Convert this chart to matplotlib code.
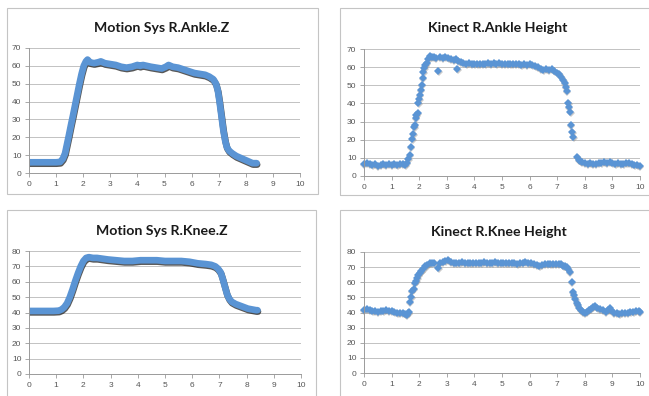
import numpy as np
import matplotlib
matplotlib.use("Agg")
import matplotlib.pyplot as plt
from matplotlib.patches import Rectangle
from matplotlib.transforms import ScaledTranslation

# ---- data ----
# Motion system, right ankle Z (dense line)
ms_ankle_x = [0, 0.2, 0.4, 0.6, 0.8, 1.0, 1.15, 1.25, 1.33, 1.4, 1.47, 1.55, 1.62, 1.7,
              1.78, 1.86, 1.94, 2.02, 2.1, 2.16, 2.25, 2.4, 2.55, 2.65, 2.8, 3.0, 3.2, 3.4,
              3.6, 3.8, 4.0, 4.1, 4.2, 4.35, 4.5, 4.7, 4.9, 5.05, 5.15, 5.3, 5.5, 5.7, 5.9,
              6.1, 6.3, 6.5, 6.65, 6.8, 6.9, 6.97, 7.03, 7.1, 7.17, 7.24, 7.3, 7.38, 7.5,
              7.65, 7.8, 7.95, 8.1, 8.25, 8.4]
ms_ankle_y = [6, 6, 6, 6, 6, 6, 6.2, 8, 11, 16, 21, 27, 32, 38,
              44, 50, 55.5, 60, 62.5, 63.5, 62, 61.5, 62, 62.5, 61.5, 61, 60.5, 59.5,
              59, 59.5, 60.5, 60, 60.5, 60, 59.5, 59, 58.5, 59.5, 60.5, 59.5, 59, 58, 57,
              56, 55.5, 55, 54, 52.5, 50, 46, 40, 32, 24, 18, 14.5, 12.5, 11,
              9.5, 8.5, 7.5, 6.5, 5.5, 5.5]

# Motion system, right knee Z
ms_knee_x = [0, 0.3, 0.6, 0.9, 1.1, 1.2, 1.3, 1.4, 1.5, 1.6, 1.7, 1.8, 1.9, 2.0, 2.1,
             2.2, 2.35, 2.5, 2.7, 2.9, 3.2, 3.5, 3.8, 4.1, 4.4, 4.7, 5.0, 5.3, 5.6, 5.9,
             6.2, 6.5, 6.7, 6.85, 6.95, 7.05, 7.12, 7.2, 7.28, 7.36, 7.45, 7.6, 7.75,
             7.9, 8.05, 8.2, 8.35, 8.4]
ms_knee_y = [41, 41, 41, 41, 41.2, 42, 43.5, 46, 50, 55, 60.5, 65.5, 70, 73.5, 75.5,
             76, 75.5, 75.5, 75, 74.5, 74, 73.5, 73.5, 74, 74, 74, 73.5, 73.5, 73.5, 73,
             72, 71.5, 71, 70, 68.5, 66, 62, 57, 52, 49, 47, 45.5, 44.5,
             43.5, 42.5, 42, 41.5, 41.5]

# Kinect, right ankle height (diamond markers)
kn_ankle_x = [0.0, 0.1, 0.2, 0.3, 0.4, 0.5, 0.6, 0.7, 0.8, 0.9, 1.0, 1.1, 1.2, 1.3, 1.4,
              1.5, 1.55, 1.6, 1.65, 1.7, 1.75, 1.78, 1.82, 1.85, 1.87, 1.9, 1.95, 1.97,
              2.0, 2.03, 2.06, 2.09, 2.12, 2.15, 2.18, 2.22, 2.27, 2.33, 2.39, 2.45, 2.52,
              2.6, 2.69, 2.75, 2.85, 2.95, 3.05, 3.15, 3.25, 3.32, 3.38, 3.42, 3.5, 3.6,
              3.7, 3.8, 3.9, 4.0, 4.1, 4.2, 4.3, 4.4, 4.5, 4.6, 4.7, 4.8, 4.9, 5.0, 5.1,
              5.2, 5.3, 5.4, 5.5, 5.6, 5.7, 5.8, 5.9, 6.0, 6.1, 6.2, 6.3, 6.4, 6.5, 6.6,
              6.7, 6.8, 6.9, 7.0, 7.08, 7.15, 7.22, 7.28, 7.32, 7.35, 7.4, 7.43, 7.47,
              7.5, 7.54, 7.58, 7.73, 7.78, 7.83, 7.9, 8.0, 8.1, 8.2, 8.3, 8.4, 8.5, 8.6,
              8.7, 8.8, 8.9, 9.0, 9.1, 9.2, 9.3, 9.4, 9.5, 9.6, 9.7, 9.8, 9.9, 10.0]
kn_ankle_y = [6.5, 7.0, 6.5, 6.0, 6.5, 5.5, 6.0, 6.5, 6.0, 6.5, 6.0, 6.5, 6.0, 6.5, 6.5,
              6.0, 7.0, 9.5, 11.5, 16, 20.5, 23, 27, 28, 32, 33.5, 34.5, 40,
              42.5, 44.5, 47.5, 50, 54, 57.5, 59.5, 61, 62.5, 64.5, 66, 65.5, 65.5,
              65, 58, 65.5, 65, 65.5, 65, 64.5, 64, 64.5, 59, 63.5, 63, 62.5,
              62, 62.5, 62, 61.5, 62, 62, 61.5, 62, 62.5, 62, 62.5, 62, 62.5, 62, 62,
              61.5, 62, 61.5, 61.5, 61.5, 61, 61.5, 61, 61.5, 61, 60.5, 60, 59, 58.5, 59,
              58.5, 59, 58, 57, 56, 54.5, 53, 51, 49, 47, 40, 38, 35.5,
              28, 24, 21.5, 10.5, 9, 8, 7.5, 7, 6.5, 7, 6.5, 6.5, 7, 7,
              7.5, 7, 7.5, 7, 6.5, 7, 6.5, 6.5, 7, 7, 6.5, 6, 6, 5.5]

# Kinect, right knee height
kn_knee_x = [0.0, 0.1, 0.2, 0.3, 0.4, 0.5, 0.6, 0.7, 0.8, 0.9, 1.0, 1.1, 1.2, 1.3, 1.4,
             1.5, 1.55, 1.6, 1.63, 1.67, 1.71, 1.74, 1.8, 1.85, 1.9, 1.93, 1.97, 2.02,
             2.07, 2.15, 2.22, 2.3, 2.38, 2.45, 2.55, 2.69, 2.75, 2.85, 2.95, 3.05, 3.15,
             3.25, 3.35, 3.45, 3.55, 3.65, 3.75, 3.85, 3.95, 4.05, 4.15, 4.25, 4.35, 4.45,
             4.55, 4.65, 4.75, 4.85, 4.95, 5.05, 5.15, 5.25, 5.35, 5.45, 5.55, 5.65, 5.75,
             5.85, 5.95, 6.05, 6.15, 6.25, 6.35, 6.45, 6.55, 6.65, 6.75, 6.85, 6.95, 7.05,
             7.15, 7.22, 7.28, 7.34, 7.4, 7.46, 7.52, 7.56, 7.6, 7.65, 7.7, 7.75, 7.8,
             7.85, 7.92, 8.0, 8.08, 8.15, 8.22, 8.3, 8.37, 8.45, 8.55, 8.65, 8.75, 8.85,
             8.9, 8.95, 9.05, 9.15, 9.25, 9.35, 9.45, 9.55, 9.65, 9.75, 9.85, 9.95, 10.0]
kn_knee_y = [41.5, 42, 41.5, 41, 41, 40.5, 41, 41, 41.5, 41, 41, 40.5, 40, 39.5, 39.5,
             39, 38.5, 39.5, 40.5, 47, 50, 54, 55.5, 59.5, 61, 62.5, 64.5, 66,
             67.5, 69, 70.5, 71.5, 72.5, 73, 73, 69.5, 73, 73.5, 74, 74.5, 73.5,
             73, 73, 73, 73.5, 72.5, 72.5, 72.5, 72.5, 72.5, 72.5, 73, 73.5, 73,
             73, 73, 73.5, 73, 73, 73, 72.5, 73, 72.5, 72.5, 72, 72.5, 72.5,
             73.5, 73, 72.5, 72, 71.5, 71, 71.5, 72, 72, 72, 72, 72, 72,
             72, 71, 70.5, 70, 68.5, 66.5, 60, 53.5, 51.5, 49, 46.5, 45, 43,
             41.5, 40.5, 40, 40.5, 41.5, 42.5, 43.5, 44, 43, 42, 41.5, 40.5, 41.5,
             43, 41.5, 40, 39.5, 39, 39.5, 39.5, 40, 40.5, 40.5, 41, 41, 40.5]

titles = ["Motion Sys R.Ankle.Z", "Kinect R.Ankle Height",
          "Motion Sys R.Knee.Z", "Kinect R.Knee Height"]

BLUE = "#5a94d4"
W, H = 649, 396


def px_axes(fig, x0, x1, ytop, ybot):
    return fig.add_axes([x0 / W, 1 - ybot / H, (x1 - x0) / W, (ybot - ytop) / H])


def style(ax, ymax):
    ax.set_xlim(0, 10)
    ax.set_ylim(0, ymax)
    ax.set_xticks(range(0, 11))
    ax.set_yticks(range(0, ymax + 1, 10))
    ax.yaxis.grid(True, color="#c2c2c2", lw=0.7)
    ax.set_axisbelow(True)
    for s in ("top", "right"):
        ax.spines[s].set_visible(False)
    for s in ("left", "bottom"):
        ax.spines[s].set_color("#9a9a9a")
        ax.spines[s].set_linewidth(0.7)
    ax.tick_params(length=3, width=0.6, color="#9a9a9a", labelsize=6,
                   labelcolor="#555555", pad=2.5)
    for lab in ax.get_xticklabels() + ax.get_yticklabels():
        lab.set_family("Liberation Sans")


def motion(ax, x, y):
    shadow = ax.transData + ScaledTranslation(0.5 / 100, -1.4 / 100, ax.figure.dpi_scale_trans)
    ax.plot(x, y, color="#202020", lw=4.8, solid_capstyle="round",
            solid_joinstyle="round", transform=shadow, alpha=0.75)
    ax.plot(x, y, color=BLUE, lw=4.8, solid_capstyle="round", solid_joinstyle="round")


def kinect(ax, x, y):
    shadow = ax.transData + ScaledTranslation(0.4 / 100, -1.0 / 100, ax.figure.dpi_scale_trans)
    ax.plot(x, y, ls="none", marker="D", ms=4.0, mew=0, color="#8a8a8a", alpha=0.45,
            transform=shadow, clip_on=False)
    ax.plot(x, y, ls="none", marker="D", ms=4.0, mew=0, color=BLUE, clip_on=False)


fig = plt.figure(figsize=(W / 100, H / 100), dpi=100)

# chart-area frames
for (bx0, by0, bx1, by1) in [(7, 8, 318, 194), (340, 8, 660, 195),
                             (7, 210, 316, 410), (340, 210, 660, 410)]:
    fig.patches.append(Rectangle((bx0 / W, 1 - by1 / H), (bx1 - bx0) / W, (by1 - by0) / H,
                                 transform=fig.transFigure, fill=False,
                                 edgecolor="#c4c4c4", lw=0.8))

ax1 = px_axes(fig, 29, 300, 48, 173)
style(ax1, 70)
motion(ax1, ms_ankle_x, ms_ankle_y)

ax2 = px_axes(fig, 364, 640, 49, 176)
style(ax2, 70)
kinect(ax2, kn_ankle_x, kn_ankle_y)

ax3 = px_axes(fig, 29, 301, 251, 374)
style(ax3, 80)
motion(ax3, ms_knee_x, ms_knee_y)

ax4 = px_axes(fig, 364, 640, 252, 373)
style(ax4, 80)
kinect(ax4, kn_knee_x, kn_knee_y)

for (tx, ty), t in zip([(162, 28), (498, 28), (162, 231), (499, 232)], titles):
    fig.text(tx / W, 1 - ty / H, t, ha="center", va="center", fontsize=10.2,
             fontweight="bold", family="Lato", color="#1a1a1a")

fig.savefig("out.png", dpi=100, facecolor="white")
